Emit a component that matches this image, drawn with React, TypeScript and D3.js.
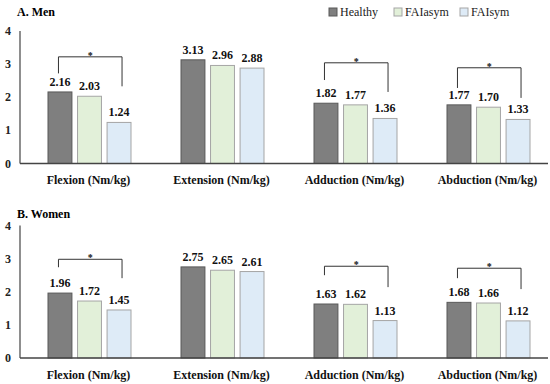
import React from "react";
import * as d3 from "d3";

const categories = ["Flexion (Nm/kg)", "Extension (Nm/kg)", "Adduction (Nm/kg)", "Abduction (Nm/kg)"];
const seriesNames = ["Healthy", "FAIasym", "FAIsym"];
const menHealthy = [2.16, 3.13, 1.82, 1.77];
const menFAIasym = [2.03, 2.96, 1.77, 1.70];
const menFAIsym = [1.24, 2.88, 1.36, 1.33];
const womenHealthy = [1.96, 2.75, 1.63, 1.68];
const womenFAIasym = [1.72, 2.65, 1.62, 1.66];
const womenFAIsym = [1.45, 2.61, 1.13, 1.12];
const yTicks = [0, 1, 2, 3, 4];
// significance brackets: category index, bar level, left leg end, right leg end (data units)
const menBrackets = [
  { cat: 0, top: 3.22, left: 2.72, right: 2.33 },
  { cat: 2, top: 3.04, left: 2.52, right: 2.16 },
  { cat: 3, top: 2.89, left: 2.28, right: 1.98 },
];
const womenBrackets = [
  { cat: 0, top: 2.98, left: 2.74, right: 2.41 },
  { cat: 2, top: 2.77, left: 2.5, right: 2.14 },
  { cat: 3, top: 2.71, left: 2.41, right: 2.08 },
];

const fills = ["#7f7f7f", "#e2f0d9", "#deebf7"];
const strokes = ["#595959", "#a5a5a5", "#a5a5a5"];
const FONT = "'Liberation Serif', 'Times New Roman', serif";

const x0 = d3.scaleBand<string>().domain(categories).range([23, 555]).paddingInner(0).paddingOuter(0);
const x1 = d3.scaleBand<string>().domain(seriesNames).range([25, 108]).paddingInner(0.19).paddingOuter(0);

function Panel({ series, brackets, offset, title, titleY }: any) {
  const y = d3.scaleLinear().domain([0, 4]).range([163.5 + offset, 31 + offset]);
  const bw = x1.bandwidth();
  return (
    <g>
      <text x={17} y={titleY} fontFamily={FONT} fontWeight="bold" fontSize={12} fill="#000">{title}</text>
      <line x1={20} x2={20} y1={y(4)} y2={y(0)} stroke="#444" strokeWidth={1.2} />
      {yTicks.map((t) => (
        <text key={t} x={8} y={y(t) + 4} textAnchor="middle" fontFamily={FONT} fontWeight="bold" fontSize={12} fill="#222">{t}</text>
      ))}
      {categories.map((c, ci) => (
        <g key={c}>
          {seriesNames.map((s, si) => {
            const v = series[si][ci];
            const bx = (x0(c) as number) + (x1(s) as number);
            return (
              <g key={s}>
                <rect x={bx} y={y(v)} width={bw} height={y(0) - y(v)} fill={fills[si]} stroke={strokes[si]} strokeWidth={1} />
                <text x={bx + bw / 2} y={y(v) - 6} textAnchor="middle" fontFamily={FONT} fontWeight="bold" fontSize={12} fill="#111">{v.toFixed(2)}</text>
              </g>
            );
          })}
          <text x={(x0(c) as number) + x0.bandwidth() / 2 - 1} y={184 + offset} textAnchor="middle" fontFamily={FONT} fontWeight="bold" fontSize={12} fill="#111">{c}</text>
        </g>
      ))}
      <line x1={20} x2={548} y1={y(0)} y2={y(0)} stroke="#444" strokeWidth={1.5} />
      {brackets.map((b: any) => {
        const c = categories[b.cat];
        const lx = (x0(c) as number) + (x1(seriesNames[0]) as number) + bw / 2 - 1.5;
        const rx = (x0(c) as number) + (x1(seriesNames[2]) as number) + bw / 2 + 3;
        return (
          <g key={b.cat}>
            <path d={`M${lx},${y(b.left)}V${y(b.top)}H${rx}V${y(b.right)}`} fill="none" stroke="#333" strokeWidth={1} />
            <text x={(lx + rx) / 2} y={y(b.top) + 2} textAnchor="middle" fontFamily={FONT} fontWeight="bold" fontSize={10} fill="#111">*</text>
          </g>
        );
      })}
    </g>
  );
}

export default function App() {
  const legendX = [329, 394, 460];
  return (
    <svg width={550} height={384} style={{ position: "absolute", left: 0, top: 0, background: "#fff" }}>
      <rect width={550} height={384} fill="#fff" />
      <Panel series={[menHealthy, menFAIasym, menFAIsym]} brackets={menBrackets} offset={0} title="A. Men" titleY={16} />
      <Panel series={[womenHealthy, womenFAIasym, womenFAIsym]} brackets={womenBrackets} offset={194.5} title="B. Women" titleY={218} />
      {seriesNames.map((s, i) => (
        <g key={s}>
          <rect x={legendX[i]} y={8} width={8} height={8} fill={fills[i]} stroke={strokes[i]} strokeWidth={1} />
          <text x={legendX[i] + 11} y={16} fontFamily={FONT} fontSize={12} fill="#222">{s}</text>
        </g>
      ))}
    </svg>
  );
}
